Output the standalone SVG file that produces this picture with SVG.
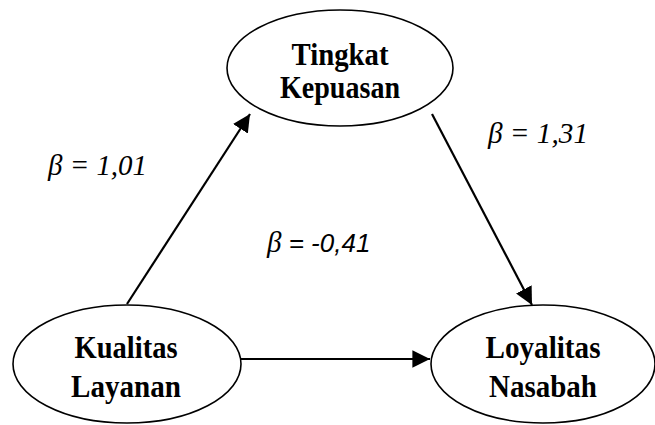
<svg xmlns="http://www.w3.org/2000/svg" width="655" height="425" viewBox="0 0 655 425">
<style>
.node{fill:#fff;stroke:#000;stroke-width:1.6}
.lbl{font-family:"Liberation Serif","Times New Roman",serif;font-weight:bold;font-size:32px;text-anchor:middle;fill:#000}
.edge{stroke:#000;stroke-width:2.2;fill:none;marker-end:url(#ah)}
.beta{font-family:"Liberation Serif","Times New Roman",serif;font-style:italic;font-size:29px;fill:#000}
.sans{font-family:"Liberation Sans",Arial,sans-serif;font-style:italic;font-size:26px}
</style>
<defs>
<marker id="ah" markerWidth="8" markerHeight="8" viewBox="0 0 10 10" refX="10" refY="5" orient="auto" markerUnits="strokeWidth">
<path d="M0,0 L10,5 L0,10 z" fill="#000"/>
</marker>
</defs>
<rect width="655" height="425" fill="#fff"/>
<g id="connectors">
<line class="edge" x1="127" y1="304" x2="250" y2="114"/>
<line class="edge" x1="432" y1="114" x2="532" y2="305"/>
<line class="edge" x1="241" y1="359" x2="430" y2="359"/>
</g>
<g id="tingkat-kepuasan">
<ellipse class="node" cx="340" cy="68" rx="113" ry="58"/>
<text class="lbl" x="340" y="65" textLength="97" lengthAdjust="spacingAndGlyphs">Tingkat</text>
<text class="lbl" x="340" y="98" textLength="120" lengthAdjust="spacingAndGlyphs">Kepuasan</text>
</g>
<g id="kualitas-layanan">
<ellipse class="node" cx="127" cy="364" rx="114" ry="59"/>
<text class="lbl" x="126" y="358" textLength="103" lengthAdjust="spacingAndGlyphs">Kualitas</text>
<text class="lbl" x="126" y="397" textLength="110" lengthAdjust="spacingAndGlyphs">Layanan</text>
</g>
<g id="loyalitas-nasabah">
<ellipse class="node" cx="543" cy="364" rx="112" ry="59"/>
<text class="lbl" x="543" y="358" textLength="115" lengthAdjust="spacingAndGlyphs">Loyalitas</text>
<text class="lbl" x="543" y="397" textLength="108" lengthAdjust="spacingAndGlyphs">Nasabah</text>
</g>
<g id="labels">
<text class="beta" x="48" y="175" textLength="99" lengthAdjust="spacingAndGlyphs">β = 1,01</text>
<text class="beta" x="488" y="143" textLength="100" lengthAdjust="spacingAndGlyphs">β = 1,31</text>
<text class="beta" x="267" y="252">β <tspan class="sans">= -0,41</tspan></text>
</g>
</svg>
